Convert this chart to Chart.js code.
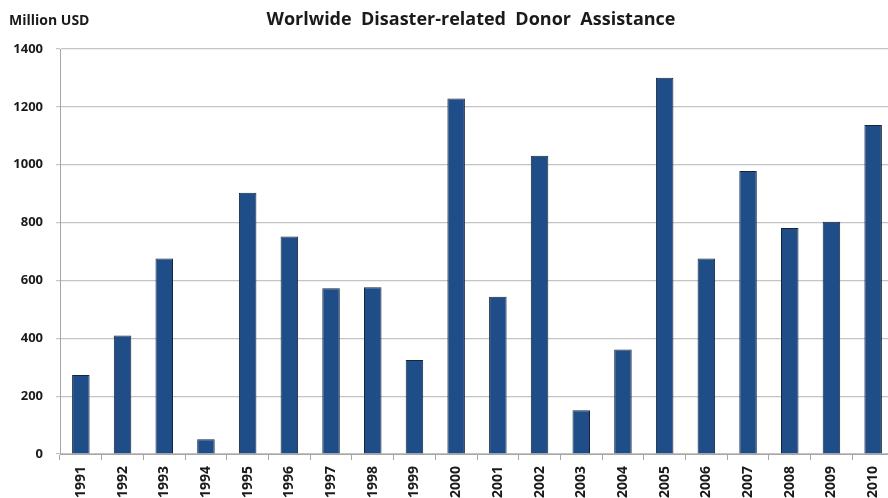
<!DOCTYPE html>
<html>
<head>
<meta charset="utf-8">
<script src="https://cdn.jsdelivr.net/npm/chart.js@4.4.1/dist/chart.umd.min.js"></script>
<style>
  html, body { margin: 0; padding: 0; background: #ffffff; overflow: hidden; }
  #wrap { position: relative; width: 888px; height: 498px; overflow: hidden; }
  #chart { display: block; }
</style>
</head>
<body>
<div id="wrap"><canvas id="chart" width="896" height="510"></canvas></div>
<script>
// Disaster-related donor assistance, million USD per year
const years = ['1991','1992','1993','1994','1995','1996','1997','1998','1999','2000',
               '2001','2002','2003','2004','2005','2006','2007','2008','2009','2010'];
const assistance = [273, 410, 676, 51, 903, 752, 573, 576, 325, 1229,
                    544, 1031, 151, 361, 1301, 676, 978, 781, 803, 1137];
const yTicks = [0, 200, 400, 600, 800, 1000, 1200, 1400];

const titleText = 'Worlwide  Disaster-related  Donor  Assistance';
const unitText = 'Million USD';
const fontFamily = '"Open Sans", "Liberation Sans", sans-serif';

// Title and unit caption drawn above the plot area
const headerPlugin = {
  id: 'header',
  afterDraw(chart) {
    const ctx = chart.ctx;
    ctx.save();
    ctx.fillStyle = '#1a1a1a';
    ctx.textBaseline = 'middle';
    ctx.font = 'bold 18px ' + fontFamily;
    ctx.textAlign = 'center';
    ctx.fillText(titleText, 471, 20);
    ctx.font = 'bold 14px ' + fontFamily;
    ctx.textAlign = 'left';
    ctx.fillText(unitText, 9, 21);
    ctx.restore();
  }
};

new Chart(document.getElementById('chart'), {
  type: 'bar',
  data: {
    labels: years,
    datasets: [{
      data: assistance,
      backgroundColor: '#1f4d88',
      borderColor: '#17253a',
      borderWidth: 1,
      barPercentage: 0.42,
      categoryPercentage: 1.0
    }]
  },
  options: {
    responsive: false,
    animation: false,
    layout: { padding: { top: 49, right: 2, left: 0, bottom: 0 } },
    plugins: {
      legend: { display: false },
      title: { display: false },
      tooltip: { enabled: false }
    },
    scales: {
      x: {
        grid: {
          display: true,
          drawOnChartArea: false,
          drawTicks: true,
          tickLength: 6,
          color: '#a6a6a6',
          offset: true
        },
        border: { display: true, color: '#a6a6a6', width: 1 },
        ticks: {
          minRotation: 90,
          maxRotation: 90,
          padding: 6,
          color: '#1a1a1a',
          font: { family: fontFamily, size: 14, weight: 'bold' }
        },
        afterFit(scale) { scale.height = 56; }
      },
      y: {
        min: 0,
        max: 1400,
        afterBuildTicks(scale) { scale.ticks = yTicks.map(v => ({ value: v })); },
        grid: {
          color: '#c4c4c4',
          lineWidth: 1.2,
          tickLength: 4,
          drawTicks: true
        },
        border: { display: true, color: '#a6a6a6', width: 1 },
        ticks: {
          padding: 13,
          color: '#1a1a1a',
          font: { family: fontFamily, size: 13, weight: 'bold' },
          callback: (v) => String(v)
        },
        afterFit(scale) { scale.width = 60; }
      }
    }
  },
  plugins: [headerPlugin]
});
</script>
</body>
</html>
